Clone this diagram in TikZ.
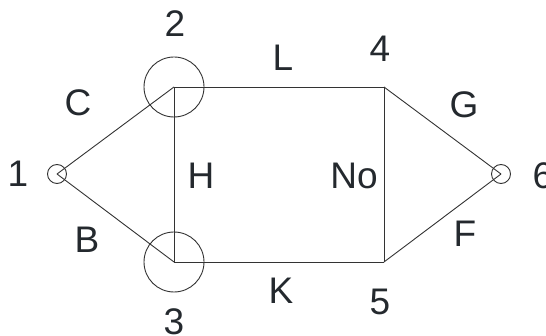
\documentclass[tikz,border=0pt]{standalone}
\usepackage{fontspec}
\setmainfont{Liberation Sans}
\definecolor{ink}{HTML}{24292E}
\definecolor{wire}{HTML}{333333}
\begin{document}
\begin{tikzpicture}[x=1pt,y=-1pt,
  vert/.style={circle,draw=wire,line width=0.9pt,inner sep=0pt},
  small/.style={vert,minimum size=19pt},
  big/.style={vert,minimum size=60pt},
  wireline/.style={draw=wire,line width=0.9pt},
  lab/.style={text=ink,font=\fontsize{37}{37}\selectfont,inner sep=0pt}]
\useasboundingbox (0,0) rectangle (546,336);
\node[small] (n1) at (57,174) {};
\node[big] (n2) at (174,87) {};
\node[big] (n3) at (174,262) {};
\coordinate (n4) at (384,87);
\coordinate (n5) at (384,262);
\node[small] (n6) at (501,174) {};
\draw[wireline] (n1.center) -- (n2.center);
\draw[wireline] (n1.center) -- (n3.center);
\draw[wireline] (n2.center) -- (n3.center);
\draw[wireline] (n2.center) -- (n4);
\draw[wireline] (n3.center) -- (n5);
\draw[wireline] (n4) -- (n5);
\draw[wireline] (n4) -- (n6.center);
\draw[wireline] (n5) -- (n6.center);
\node[lab] (t1) at (18,174) {1};
\node[lab] (t2) at (175,24) {2};
\node[lab] (t3) at (174,322) {3};
\node[lab] (t4) at (380,49) {4};
\node[lab] (t5) at (380,302) {5};
\node[lab] (t6) at (543,176) {6};
\node[lab] (tC) at (78,103) {C};
\node[lab] (tB) at (87,240) {B};
\node[lab] (tH) at (201,176) {H};
\node[lab] (tL) at (283,58) {L};
\node[lab] (tK) at (281,291) {K};
\node[lab] (tNo) at (354,176) {No};
\node[lab] (tG) at (464,105) {G};
\node[lab] (tF) at (465,234) {F};
\end{tikzpicture}
\end{document}
